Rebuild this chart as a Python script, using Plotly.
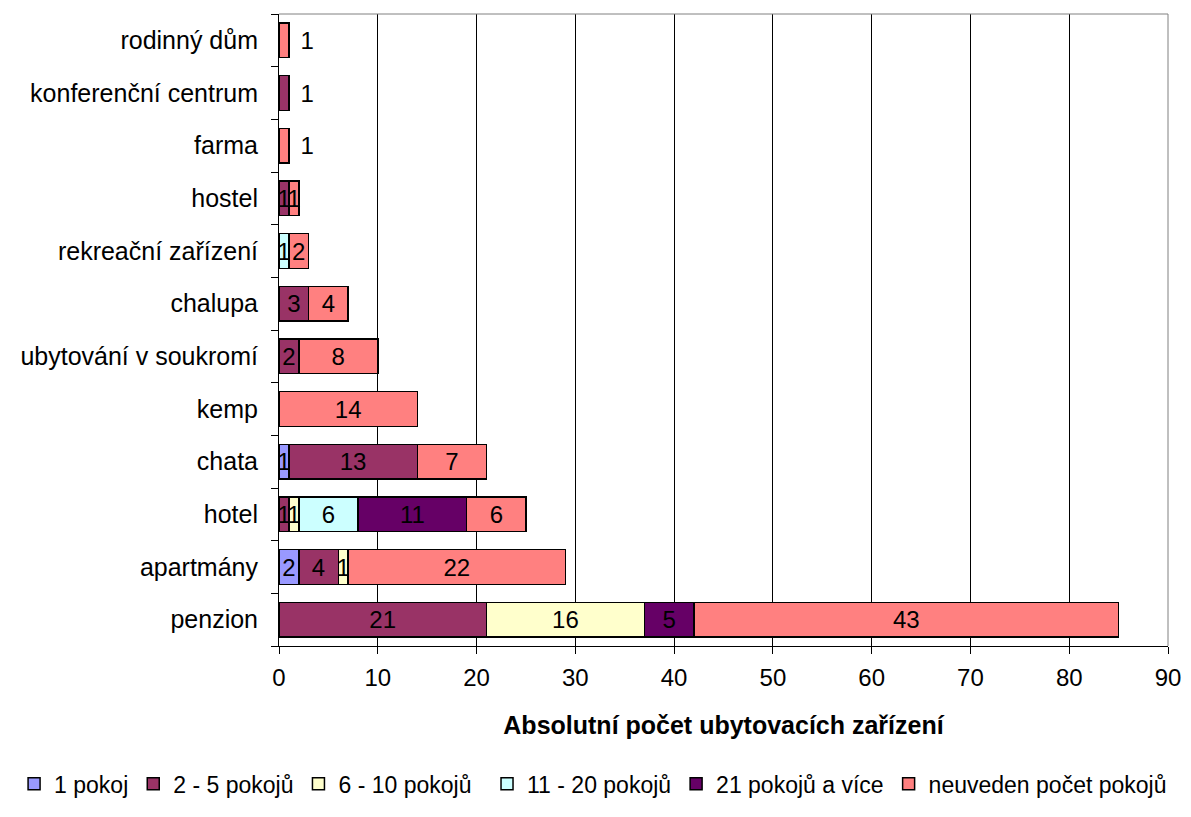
import plotly.graph_objects as go

categories = ["penzion", "apartmány", "hotel", "chata", "kemp", "ubytování v soukromí",
              "chalupa", "rekreační zařízení", "hostel", "farma", "konferenční centrum", "rodinný dům"]

series_names = ["1 pokoj", "2 - 5 pokojů", "6 - 10 pokojů", "11 - 20 pokojů", "21 pokojů a více", "neuveden počet pokojů"]
s_1 = [None, 2, None, 1, None, None, None, None, None, None, None, None]
s_2_5 = [21, 4, 1, 13, None, 2, 3, None, 1, None, 1, None]
s_6_10 = [16, 1, 1, None, None, None, None, None, None, None, None, None]
s_11_20 = [None, None, 6, None, None, None, None, 1, None, None, None, None]
s_21 = [5, None, 11, None, None, None, None, None, None, None, None, None]
s_neuv = [43, 22, 6, 7, 14, 8, 4, 2, 1, 1, None, 1]
colors = ["#9999FF", "#993366", "#FFFFCC", "#CCFFFF", "#660066", "#FF8080"]

all_series = [s_1, s_2_5, s_6_10, s_11_20, s_21, s_neuv]
legend_ids = ["legend", "legend", "legend", "legend2", "legend2", "legend2"]

FONT = "Liberation Sans, Arial, sans-serif"
FS = 24

fig = go.Figure()
for name, vals, col, lg in zip(series_names, all_series, colors, legend_ids):
    positions, texts = [], []
    for i, v in enumerate(vals):
        total = sum(s[i] or 0 for s in all_series)
        if v and total == 1:
            positions.append("outside")
            texts.append(" \u200a" + str(v))
        else:
            positions.append("inside")
            texts.append(str(v) if v else "")
    fig.add_trace(go.Bar(
        y=categories, x=vals, name=name, orientation="h", legend=lg,
        marker=dict(color=col, line=dict(color="black", width=1.5)),
        text=texts,
        textposition=positions,
        insidetextanchor="middle",
        textfont=dict(family=FONT, size=FS, color="black"),
        outsidetextfont=dict(family=FONT, size=FS, color="black"),
        insidetextfont=dict(family=FONT, size=FS, color="black"),
        cliponaxis=False,
        constraintext="none",
    ))

leg_common = dict(orientation="h", yanchor="bottom", y=-0.252, font=dict(size=23),
                  itemwidth=30, traceorder="normal", bgcolor="rgba(0,0,0,0)")

fig.update_layout(
    barmode="stack",
    bargap=0.34,
    width=1191, height=817,
    margin=dict(l=279, r=23, t=14, b=163),
    plot_bgcolor="white", paper_bgcolor="white",
    font=dict(family=FONT, size=FS, color="black"),
    uniformtext=dict(minsize=FS, mode="show"),
    xaxis=dict(
        range=[0, 90], dtick=10, showgrid=True, gridcolor="#000000", gridwidth=1,
        showline=True, linecolor="black", linewidth=1, ticks="outside", ticklen=7,
        tickcolor="black", zeroline=False, mirror=False, automargin=False,
        ticklabelstandoff=3,
        title=dict(text="<b>Absolutní počet ubytovacích zařízení</b>", font=dict(size=25), standoff=26),
    ),
    yaxis=dict(
        showline=True, linecolor="black", linewidth=1, ticks="outside", ticklen=7,
        tickson="boundaries", tickcolor="black", showgrid=False, automargin=False,
        ticklabelstandoff=15, tickfont=dict(size=25),
    ),
    legend=dict(x=-0.298, xanchor="left", **leg_common),
    legend2=dict(x=0.234, xanchor="left", **leg_common),
    shapes=[dict(type="line", xref="paper", yref="paper", x0=0, x1=1, y0=1, y1=1,
                 line=dict(color="#808080", width=1)),
            dict(type="line", xref="paper", yref="paper", x0=1, x1=1, y0=0, y1=1,
                 line=dict(color="#808080", width=1))],
)

fig.write_html("out.html", config={"displayModeBar": False},
               post_script="document.body.style.margin='0';")
